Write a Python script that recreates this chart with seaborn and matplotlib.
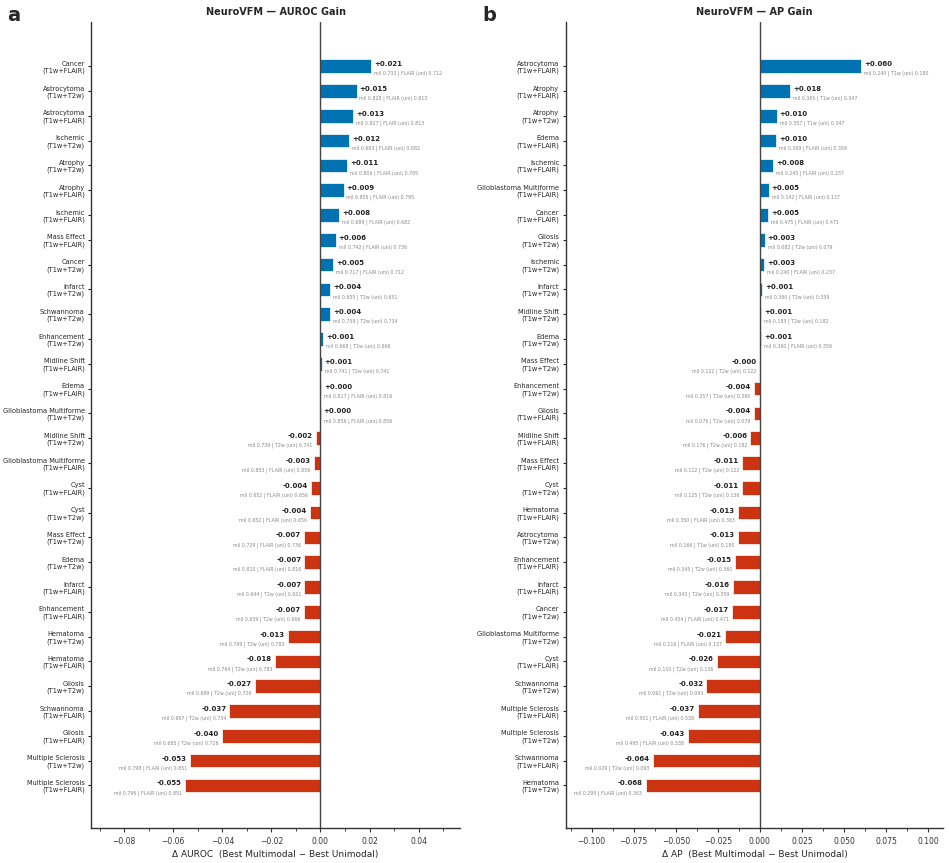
import numpy as np
import pandas as pd
import seaborn as sns
import matplotlib.pyplot as plt
from matplotlib.ticker import AutoMinorLocator

# ---- AUROC panel (top to bottom) ----
auroc_task = ['Cancer', 'Astrocytoma', 'Astrocytoma', 'Ischemic', 'Atrophy', 'Atrophy',
              'Ischemic', 'Mass Effect', 'Cancer', 'Infarct', 'Schwannoma', 'Enhancement',
              'Midline Shift', 'Edema', 'Glioblastoma Multiforme', 'Midline Shift',
              'Glioblastoma Multiforme', 'Cyst', 'Cyst', 'Mass Effect', 'Edema', 'Infarct',
              'Enhancement', 'Hematoma', 'Hematoma', 'Gliosis', 'Schwannoma', 'Gliosis',
              'Multiple Sclerosis', 'Multiple Sclerosis']
auroc_combo = ['T1w+FLAIR', 'T1w+T2w', 'T1w+FLAIR', 'T1w+T2w', 'T1w+T2w', 'T1w+FLAIR',
               'T1w+FLAIR', 'T1w+FLAIR', 'T1w+T2w', 'T1w+T2w', 'T1w+T2w', 'T1w+T2w',
               'T1w+FLAIR', 'T1w+FLAIR', 'T1w+T2w', 'T1w+T2w', 'T1w+FLAIR', 'T1w+FLAIR',
               'T1w+T2w', 'T1w+T2w', 'T1w+T2w', 'T1w+FLAIR', 'T1w+FLAIR', 'T1w+T2w',
               'T1w+FLAIR', 'T1w+T2w', 'T1w+FLAIR', 'T1w+FLAIR', 'T1w+T2w', 'T1w+FLAIR']
auroc_delta = [0.0208, 0.0147, 0.0134, 0.0117, 0.0109, 0.0094, 0.0077, 0.0062, 0.0051,
               0.0040, 0.0039, 0.0012, 0.0005, 0.0002, 0.0001, -0.0020, -0.0028, -0.0040,
               -0.0042, -0.0067, -0.0066, -0.0066, -0.0068, -0.0133, -0.0185, -0.0268,
               -0.0371, -0.0403, -0.0532, -0.0553]
auroc_mil = [0.733, 0.828, 0.827, 0.693, 0.806, 0.805, 0.689, 0.742, 0.717, 0.655, 0.738,
             0.668, 0.741, 0.817, 0.856, 0.739, 0.853, 0.652, 0.652, 0.729, 0.810, 0.644,
             0.659, 0.769, 0.764, 0.699, 0.697, 0.685, 0.798, 0.796]
auroc_uni_mod = ['FLAIR', 'FLAIR', 'FLAIR', 'FLAIR', 'FLAIR', 'FLAIR', 'FLAIR', 'FLAIR',
                 'FLAIR', 'T2w', 'T2w', 'T2w', 'T2w', 'FLAIR', 'FLAIR', 'T2w', 'FLAIR',
                 'FLAIR', 'FLAIR', 'FLAIR', 'FLAIR', 'T2w', 'T2w', 'T2w', 'T2w', 'T2w',
                 'T2w', 'T2w', 'FLAIR', 'FLAIR']
auroc_uni = [0.712, 0.813, 0.813, 0.682, 0.795, 0.795, 0.682, 0.736, 0.712, 0.651, 0.734,
             0.666, 0.741, 0.816, 0.856, 0.741, 0.856, 0.656, 0.656, 0.736, 0.816, 0.651,
             0.666, 0.783, 0.783, 0.726, 0.734, 0.726, 0.851, 0.851]

# ---- AP panel (top to bottom) ----
ap_task = ['Astrocytoma', 'Atrophy', 'Atrophy', 'Edema', 'Ischemic', 'Glioblastoma Multiforme',
           'Cancer', 'Gliosis', 'Ischemic', 'Infarct', 'Midline Shift', 'Edema', 'Mass Effect',
           'Enhancement', 'Gliosis', 'Midline Shift', 'Mass Effect', 'Cyst', 'Hematoma',
           'Astrocytoma', 'Enhancement', 'Infarct', 'Cancer', 'Glioblastoma Multiforme', 'Cyst',
           'Schwannoma', 'Multiple Sclerosis', 'Multiple Sclerosis', 'Schwannoma', 'Hematoma']
ap_combo = ['T1w+FLAIR', 'T1w+FLAIR', 'T1w+T2w', 'T1w+FLAIR', 'T1w+FLAIR', 'T1w+FLAIR',
            'T1w+FLAIR', 'T1w+T2w', 'T1w+T2w', 'T1w+T2w', 'T1w+T2w', 'T1w+T2w', 'T1w+T2w',
            'T1w+T2w', 'T1w+FLAIR', 'T1w+FLAIR', 'T1w+FLAIR', 'T1w+T2w', 'T1w+FLAIR',
            'T1w+T2w', 'T1w+FLAIR', 'T1w+FLAIR', 'T1w+T2w', 'T1w+T2w', 'T1w+FLAIR',
            'T1w+T2w', 'T1w+FLAIR', 'T1w+T2w', 'T1w+FLAIR', 'T1w+T2w']
ap_delta = [0.0600, 0.0180, 0.0099, 0.0097, 0.0078, 0.0052, 0.0047, 0.0028, 0.0027, 0.0011,
            0.0005, 0.0005, -0.0002, -0.0036, -0.0037, -0.0057, -0.0106, -0.0106, -0.0130,
            -0.0132, -0.0148, -0.0161, -0.0168, -0.0208, -0.0257, -0.0318, -0.0371, -0.0430,
            -0.0638, -0.0680]
ap_mil = [0.240, 0.365, 0.357, 0.369, 0.245, 0.142, 0.475, 0.082, 0.240, 0.360, 0.183, 0.360,
          0.122, 0.357, 0.076, 0.176, 0.112, 0.125, 0.350, 0.166, 0.345, 0.343, 0.454, 0.116,
          0.110, 0.061, 0.501, 0.495, 0.029, 0.295]
ap_uni_mod = ['T1w', 'T1w', 'T1w', 'FLAIR', 'FLAIR', 'FLAIR', 'FLAIR', 'T2w', 'FLAIR', 'T2w',
              'T2w', 'FLAIR', 'T2w', 'T2w', 'T2w', 'T2w', 'T2w', 'T2w', 'FLAIR', 'T1w', 'T2w',
              'T2w', 'FLAIR', 'FLAIR', 'T2w', 'T2w', 'FLAIR', 'FLAIR', 'T2w', 'FLAIR']
ap_uni = [0.180, 0.347, 0.347, 0.359, 0.237, 0.137, 0.471, 0.079, 0.237, 0.359, 0.182, 0.359,
          0.122, 0.360, 0.079, 0.182, 0.122, 0.136, 0.363, 0.180, 0.360, 0.359, 0.471, 0.137,
          0.136, 0.093, 0.538, 0.538, 0.093, 0.363]

BLUE = '#0072B2'
RED = '#CC3311'

sns.set_style('ticks')
plt.rcParams['font.family'] = ['DejaVu Sans']


def gain_panel(ax, task, combo, delta, mil, uni_mod, uni, xlim, xticks, xlabel, title):
    df = pd.DataFrame({
        'label': [f'{t}\n({c})' for t, c in zip(task, combo)],
        'delta': delta,
        'sign': ['pos' if d >= 0 else 'neg' for d in delta],
    })
    sns.barplot(data=df, x='delta', y='label', hue='sign', orient='h',
                palette={'pos': BLUE, 'neg': RED}, saturation=1, width=0.55, dodge=False,
                edgecolor='white', linewidth=0.5, legend=False, ax=ax)
    ax.axvline(0, color='#444444', lw=1.0, zorder=3)

    span = xlim[1] - xlim[0]
    pad = span * 0.008
    for i, (d, m, um, u) in enumerate(zip(delta, mil, uni_mod, uni)):
        sub = f'mil {m:.3f} | {um} (uni) {u:.3f}'
        val = f'{d:+.3f}'
        if d >= 0:
            xx, ha = d + pad, 'left'
        else:
            xx, ha = d - pad, 'right'
        ax.text(xx, i - 0.08, val, ha=ha, va='center', fontsize=5, fontweight='bold',
                color='#222222')
        ax.text(xx, i + 0.3, sub, ha=ha, va='center', fontsize=3.4, color='#888888')

    ax.set_xlim(*xlim)
    ax.set_ylim(30.7, -1.8)
    ax.set_xticks(xticks)
    ax.xaxis.set_minor_locator(AutoMinorLocator(2))
    ax.tick_params(axis='x', labelsize=5.5, length=3, width=0.8, colors='#333333')
    ax.tick_params(axis='x', which='minor', length=2, width=0.6)
    ax.tick_params(axis='y', labelsize=4.8, length=2.5, width=0.8, pad=2)
    ax.set_ylabel('')
    ax.set_xlabel(xlabel, fontsize=6.5, labelpad=3)
    ax.set_title(title, fontsize=7, fontweight='bold', pad=5)
    sns.despine(ax=ax)
    for s in ['left', 'bottom']:
        ax.spines[s].set_color('#333333')
        ax.spines[s].set_linewidth(1.0)


fig = plt.figure(figsize=(9.49, 8.63), dpi=100)
ax1 = fig.add_axes([0.096, 0.041, 0.389, 0.934])
ax2 = fig.add_axes([0.596, 0.041, 0.398, 0.934])

gain_panel(ax1, auroc_task, auroc_combo, auroc_delta, auroc_mil, auroc_uni_mod, auroc_uni,
           (-0.0935, 0.057), [-0.08, -0.06, -0.04, -0.02, 0.0, 0.02, 0.04],
           'Δ AUROC  (Best Multimodal − Best Unimodal)', 'NeuroVFM — AUROC Gain')
gain_panel(ax2, ap_task, ap_combo, ap_delta, ap_mil, ap_uni_mod, ap_uni,
           (-0.1155, 0.109), [-0.1, -0.075, -0.05, -0.025, 0.0, 0.025, 0.05, 0.075, 0.1],
           'Δ AP  (Best Multimodal − Best Unimodal)', 'NeuroVFM — AP Gain')

fig.text(0.008, 0.982, 'a', fontsize=14, fontweight='bold', va='center')
fig.text(0.508, 0.982, 'b', fontsize=14, fontweight='bold', va='center')

fig.savefig('out.png', dpi=100)
